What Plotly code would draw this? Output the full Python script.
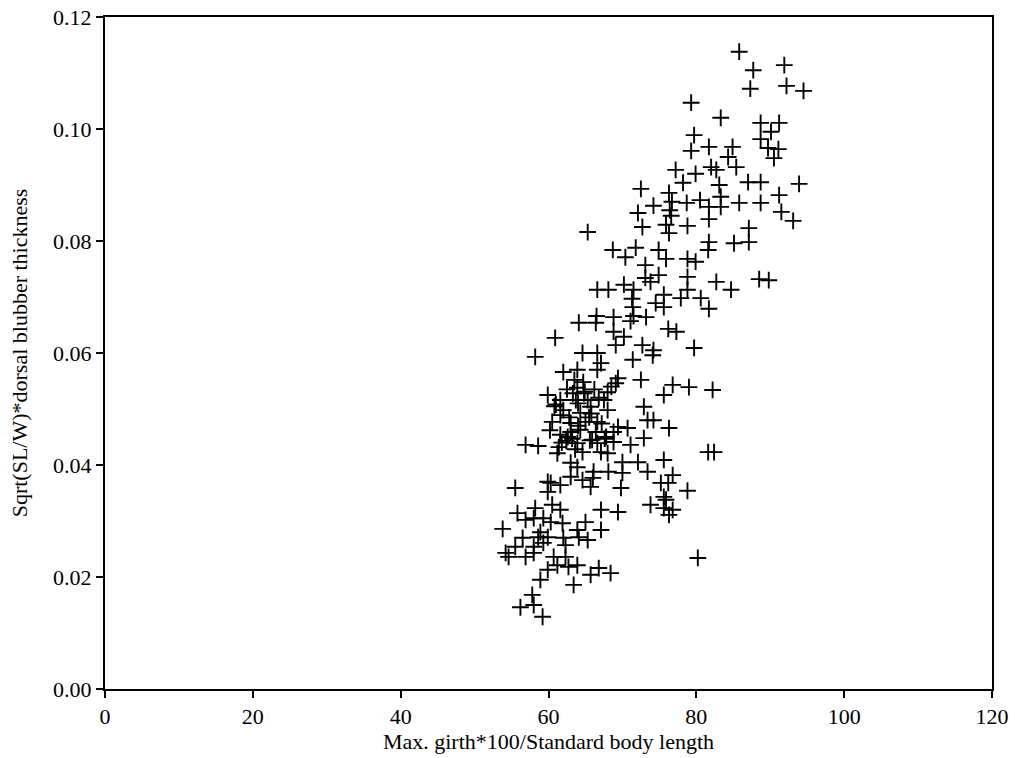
import plotly.graph_objects as go

# Max. girth*100 / standard body length  vs  sqrt(SL/W) * dorsal blubber thickness
girth = [
    # upper cloud
    85.8, 87.7, 91.9, 87.3, 92.2, 94.5, 79.3, 83.3, 88.7, 91.2,
    90.1, 79.7, 88.7, 79.3, 81.7, 84.9, 89.7, 91.1, 90.5, 84.3,
    85.4, 82.0, 77.2, 79.9, 82.7, 78.2, 83.1, 87.0, 88.7, 93.9,
    91.2, 72.5, 76.3, 72.1, 74.2, 76.4, 76.7, 78.7, 80.5, 81.7,
    83.3, 83.3, 85.8, 88.7, 91.5, 76.6, 93.1,
    # 0.07 - 0.085
    65.3, 72.7, 75.9, 78.8, 81.7, 76.3, 87.1, 87.1, 85.1, 81.7,
    81.6, 68.7, 70.4, 71.8, 74.9, 75.9, 78.8, 79.9, 73.1, 78.8,
    82.7, 84.7, 88.5, 89.8, 74.9, 73.1, 70.2, 66.6, 68.1, 71.5,
    73.8, 75.6, 78.8, 77.9, 80.6,
    # 0.058 - 0.07
    81.7, 71.3, 71.4, 74.5, 75.6, 66.5, 68.8, 71.5, 73.2, 64.1,
    66.4, 71.1, 68.8, 76.2, 77.3, 70.2, 69.1, 72.7, 79.7, 74.2,
    60.9, 58.2, 64.6, 66.6, 67.1, 71.4, 74.1,
    # 0.034 - 0.058
    62.0, 63.9, 66.6, 69.4, 72.5, 64.7, 63.9, 68.0, 69.1, 76.8,
    79.0, 82.2, 59.9, 75.6, 61.6, 63.7, 65.3, 66.8, 67.5, 72.9,
    62.0, 65.7, 68.0, 61.6, 64.3, 60.5, 63.0, 65.0, 66.6, 69.4,
    70.7, 73.4, 74.2, 76.3, 63.0, 64.3, 66.4, 68.8, 72.9, 61.6,
    56.9, 58.6, 61.4, 63.9, 66.6, 68.8, 71.1, 61.2, 64.6, 67.1,
    68.0, 70.0, 72.1, 75.6, 81.6, 82.4, 63.0, 63.9, 66.1, 68.1,
    73.4, 70.0, 76.8, 63.0, 64.6, 59.9, 60.3, 61.6, 69.8, 75.2,
    76.2, 78.8, 55.5, 59.9, 65.7, 75.6, 66.0,
    62.6, 64.0, 65.9, 61.0, 63.3, 65.5, 67.8, 60.2, 62.4, 64.9,
    62.5, 63.5, 64.8, 62.8, 65.8, 67.2, 61.8, 63.6, 65.6, 67.6,
    60.8, 64.0, 66.2, 68.5, 63.2,
    # lower tail
    75.9, 60.5, 58.2, 61.6, 67.1, 69.4, 73.8, 75.6, 76.8, 76.3,
    55.8, 56.9, 58.0, 59.3, 60.3, 61.9, 65.0, 58.9, 63.9, 67.1,
    53.8, 56.5, 58.6, 59.9, 62.0, 64.1, 65.3, 55.5, 58.0, 59.3,
    62.3, 54.2, 54.6, 56.9, 58.0, 60.7, 62.3, 63.9, 62.7, 61.2,
    80.2, 59.9, 66.8, 65.7, 68.4, 58.9, 63.4, 57.8, 56.2, 58.0,
    59.2,
]

blubber = [
    # upper cloud
    0.1138, 0.1105, 0.1114, 0.1072, 0.1077, 0.1068, 0.1047, 0.1020, 0.1011, 0.1011,
    0.0995, 0.0989, 0.0982, 0.0961, 0.0968, 0.0968, 0.0966, 0.0964, 0.0948, 0.0950,
    0.0932, 0.0932, 0.0927, 0.0920, 0.0927, 0.0904, 0.0900, 0.0905, 0.0905, 0.0902,
    0.0882, 0.0893, 0.0886, 0.0850, 0.0863, 0.0855, 0.0870, 0.0868, 0.0873, 0.0861,
    0.0879, 0.0861, 0.0868, 0.0868, 0.0852, 0.0845, 0.0836,
    # 0.07 - 0.085
    0.0816, 0.0825, 0.0829, 0.0827, 0.0839, 0.0814, 0.0823, 0.0798, 0.0796, 0.0798,
    0.0784, 0.0784, 0.0771, 0.0788, 0.0784, 0.0768, 0.0768, 0.0763, 0.0757, 0.0736,
    0.0727, 0.0713, 0.0732, 0.0730, 0.0739, 0.0734, 0.0722, 0.0713, 0.0713, 0.0713,
    0.0727, 0.0704, 0.0713, 0.0698, 0.0698,
    # 0.058 - 0.07
    0.0679, 0.0697, 0.0682, 0.0689, 0.0682, 0.0666, 0.0664, 0.0666, 0.0664, 0.0654,
    0.0654, 0.0657, 0.0638, 0.0643, 0.0638, 0.0629, 0.0614, 0.0614, 0.0609, 0.0605,
    0.0627, 0.0593, 0.0600, 0.0600, 0.0582, 0.0588, 0.0596,
    # 0.034 - 0.058
    0.0566, 0.0570, 0.0570, 0.0555, 0.0552, 0.0548, 0.0538, 0.0530, 0.0546, 0.0543,
    0.0539, 0.0534, 0.0525, 0.0525, 0.0516, 0.0516, 0.0516, 0.0520, 0.0516, 0.0504,
    0.0498, 0.0504, 0.0498, 0.0489, 0.0493, 0.0477, 0.0475, 0.0477, 0.0477, 0.0468,
    0.0466, 0.0480, 0.0480, 0.0466, 0.0459, 0.0463, 0.0459, 0.0459, 0.0448, 0.0454,
    0.0436, 0.0434, 0.0432, 0.0439, 0.0439, 0.0441, 0.0436, 0.0421, 0.0423, 0.0423,
    0.0421, 0.0405, 0.0405, 0.0409, 0.0423, 0.0423, 0.0404, 0.0396, 0.0388, 0.0388,
    0.0388, 0.0386, 0.0382, 0.0379, 0.0373, 0.0370, 0.0368, 0.0364, 0.0359, 0.0368,
    0.0368, 0.0354, 0.0359, 0.0352, 0.0361, 0.0343, 0.0377,
    0.0450, 0.0470, 0.0445, 0.0508, 0.0528, 0.0485, 0.0450, 0.0462, 0.0443, 0.0531,
    0.0535, 0.0552, 0.0528, 0.0485, 0.0492, 0.0474, 0.0440, 0.0428, 0.0444, 0.0447,
    0.0505, 0.0510, 0.0535, 0.0540, 0.0447,
    # lower tail
    0.0338, 0.0329, 0.0323, 0.0320, 0.0320, 0.0316, 0.0329, 0.0323, 0.0320, 0.0311,
    0.0314, 0.0302, 0.0305, 0.0305, 0.0298, 0.0296, 0.0298, 0.0280, 0.0284, 0.0284,
    0.0286, 0.0270, 0.0271, 0.0271, 0.0270, 0.0271, 0.0266, 0.0254, 0.0254, 0.0261,
    0.0257, 0.0243, 0.0236, 0.0236, 0.0243, 0.0236, 0.0236, 0.0221, 0.0218, 0.0221,
    0.0234, 0.0213, 0.0216, 0.0204, 0.0207, 0.0195, 0.0186, 0.0168, 0.0146, 0.0150,
    0.0129,
]

x_ticks = [0, 20, 40, 60, 80, 100, 120]
y_ticks = [0.00, 0.02, 0.04, 0.06, 0.08, 0.10, 0.12]

serif = "Liberation Serif, Times New Roman, serif"

fig = go.Figure(
    go.Scatter(
        x=girth,
        y=blubber,
        mode="markers",
        marker=dict(
            symbol="cross-thin",
            size=12,
            color="black",
            line=dict(color="black", width=1.9),
        ),
        showlegend=False,
    )
)

axis_common = dict(
    showgrid=False,
    zeroline=False,
    showline=True,
    linecolor="black",
    linewidth=2,
    mirror=True,
    ticks="outside",
    ticklen=7,
    tickwidth=1.5,
    tickcolor="black",
    tickfont=dict(family=serif, size=22, color="black"),
    automargin=False,
)

fig.update_xaxes(
    range=[0, 120],
    tickvals=x_ticks,
    ticktext=[str(v) for v in x_ticks],
    title=dict(
        text="Max. girth*100/Standard body length",
        font=dict(family=serif, size=22, color="black"),
        standoff=3,
    ),
    **axis_common,
)
fig.update_yaxes(
    range=[0, 0.12],
    tickvals=y_ticks,
    ticktext=[f"{v:.2f}" for v in y_ticks],
    title=dict(
        text="Sqrt(SL/W)*dorsal blubber thickness",
        font=dict(family=serif, size=22, color="black"),
        standoff=19,
    ),
    **axis_common,
)

fig.update_layout(
    width=1015,
    height=758,
    margin=dict(l=105, r=23, t=17, b=69),
    paper_bgcolor="white",
    plot_bgcolor="white",
)

fig.write_html("out.html")
